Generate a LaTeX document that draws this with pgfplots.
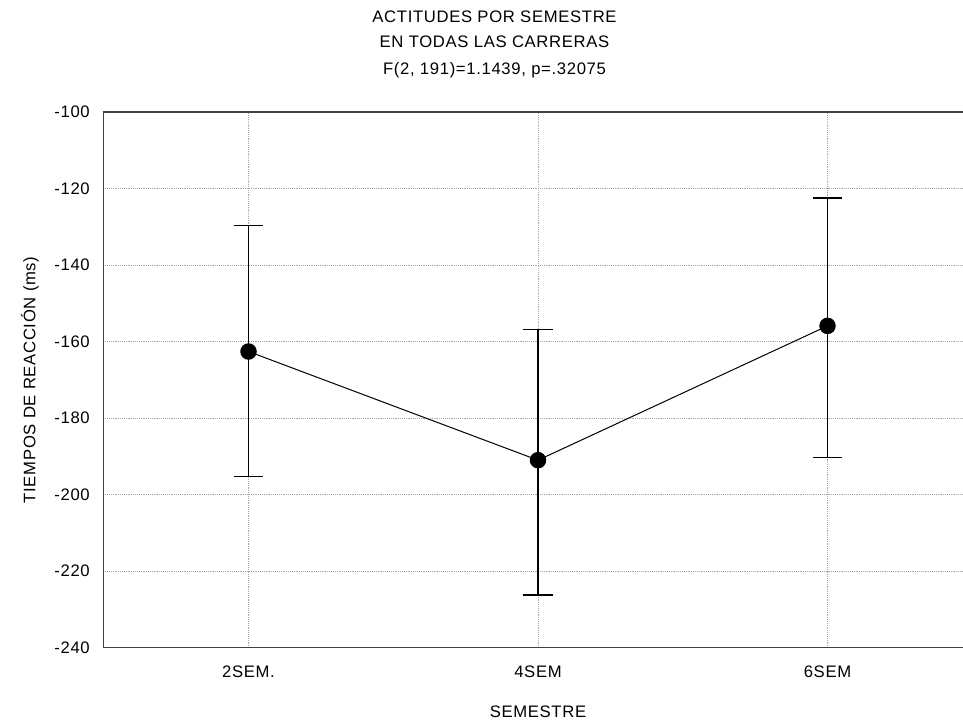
\documentclass[border=0pt]{standalone}
\usepackage{fontspec}
\setmainfont[LetterSpace=4]{Liberation Sans}
\usepackage{pgfplots}
\pgfplotsset{compat=1.18}
\usetikzlibrary{calc}
\begin{document}
\begin{tikzpicture}
\begin{axis}[
  name=ax,
  scale only axis,
  width=644.8pt, height=401.8pt,
  xmin=-0.5015, xmax=2.468,
  ymin=-240, ymax=-100,
  xtick={0,1,2},
  xticklabels={2SEM.,4SEM,6SEM},
  ytick={-240,-220,-200,-180,-160,-140,-120,-100},
  axis y line*=left,
  axis line style={black!75, line width=1pt},
  major tick length=0pt,
  grid=major,
  grid style={densely dotted, black!35, line width=0.6pt},
  font=\fontsize{12.5}{15}\selectfont,
  /pgf/number format/assume math mode=true,
  yticklabel style={inner sep=0pt, anchor=east, xshift=-10pt},
  xticklabel style={inner sep=0pt, anchor=center, yshift=-18pt},
  xlabel={SEMESTRE},
  xlabel style={at={(axis description cs:0.5056,0)}, anchor=center, inner sep=0pt, yshift=-48pt},
  ylabel={TIEMPOS DE REACCIÓN (ms)},
  ylabel style={at={(axis description cs:0,0.5)}, anchor=center, inner sep=0pt, yshift=55pt},
  clip=false,
]
\addplot[black, line width=0.75pt, mark=*, mark size=5.8pt, mark options={fill=black, solid},
  error bars/.cd, y dir=both, y explicit,
  error bar style={black, line width=0.9pt},
  error mark options={rotate=90, black, mark size=10.9pt, line width=0.9pt}]
  coordinates {
    (0,-162.6) += (0,33.0) -= (0,32.6)
    (1,-191.0) += (0,34.2) -= (0,35.25)
    (2,-155.9) += (0,33.4) -= (0,34.3)
  };
\end{axis}
\node[font=\fontsize{12.5}{15}\selectfont, anchor=center, inner sep=0pt] at ($(ax.north west)+(293.4pt,71.25pt)$) {ACTITUDES POR SEMESTRE};
\node[font=\fontsize{12.5}{15}\selectfont, anchor=center, inner sep=0pt] at ($(ax.north west)+(293.4pt,52.5pt)$) {EN TODAS LAS CARRERAS};
\node[font=\fontsize{12.5}{15}\selectfont, anchor=center, inner sep=0pt] at ($(ax.north west)+(293.4pt,31.5pt)$) {F(2, 191)=1.1439, p=.32075};
\pgfresetboundingbox
\path[use as bounding box] ($(ax.south west)+(-77.5pt,-56.5pt)$) rectangle ($(ax.north east)+(0pt,84pt)$);
\end{tikzpicture}
\end{document}
